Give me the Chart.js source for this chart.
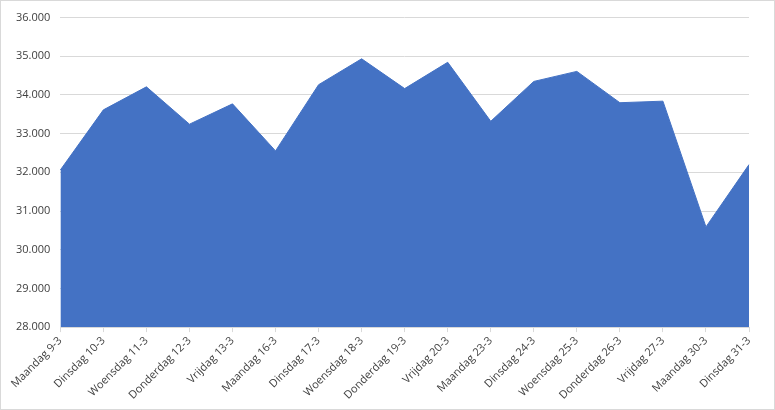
<!DOCTYPE html>
<html>
<head>
<meta charset="utf-8">
<script src="https://cdn.jsdelivr.net/npm/chart.js@4"></script>
<style>
  html, body { margin: 0; padding: 0; background: #fff; }
  #wrap { width: 773px; height: 408px; border: 1px solid #d9d9d9; position: relative; }
  canvas { display: block; }
</style>
</head>
<body>
<div id="wrap"><canvas id="areaChart" width="773" height="408"></canvas></div>
<script>
const labels = [
  "Maandag 9-3", "Dinsdag 10-3", "Woensdag 11-3", "Donderdag 12-3", "Vrijdag 13-3",
  "Maandag 16-3", "Dinsdag 17-3", "Woensdag 18-3", "Donderdag 19-3", "Vrijdag 20-3",
  "Maandag 23-3", "Dinsdag 24-3", "Woensdag 25-3", "Donderdag 26-3", "Vrijdag 27-3",
  "Maandag 30-3", "Dinsdag 31-3"
];
const values = [
  32060, 33615, 34210, 33245, 33770,
  32555, 34265, 34935, 34165, 34845,
  33320, 34350, 34610, 33800, 33840,
  30590, 32200
];
const yMin = 28000;
const yMax = 36000;
const yStep = 1000;

function formatNl(v) {
  return String(v).replace(/\B(?=(\d{3})+(?!\d))/g, ".");
}

const ctx = document.getElementById("areaChart");

new Chart(ctx, {
  type: "line",
  data: {
    labels: labels,
    datasets: [
      {
        data: values,
        fill: "start",
        backgroundColor: "#4472C4",
        borderColor: "#4472C4",
        borderWidth: 1,
        pointRadius: 0,
        tension: 0,
      },
    ],
  },
  options: {
    responsive: false,
    animation: false,
    layout: {
      padding: { left: 5, right: 25, top: 4, bottom: 5 },
    },
    plugins: {
      legend: { display: false },
      tooltip: { enabled: false },
    },
    scales: {
      x: {
        offset: false,
        grid: {
          drawOnChartArea: false,
          drawTicks: true,
          tickLength: 5,
          color: "#d9d9d9",
        },
        border: { display: true, color: "#d9d9d9" },
        ticks: {
          minRotation: 45,
          maxRotation: 45,
          autoSkip: false,
          color: "#404040",
          padding: 2,
          font: { family: "Open Sans", size: 11 },
        },
      },
      y: {
        min: yMin,
        max: yMax,
        grid: {
          color: "#d9d9d9",
          drawTicks: false,
        },
        border: { display: false },
        ticks: {
          stepSize: yStep,
          color: "#404040",
          padding: 10,
          font: { family: "Open Sans", size: 11 },
          callback: (v) => formatNl(v),
        },
      },
    },
  },
});
</script>
</body>
</html>
